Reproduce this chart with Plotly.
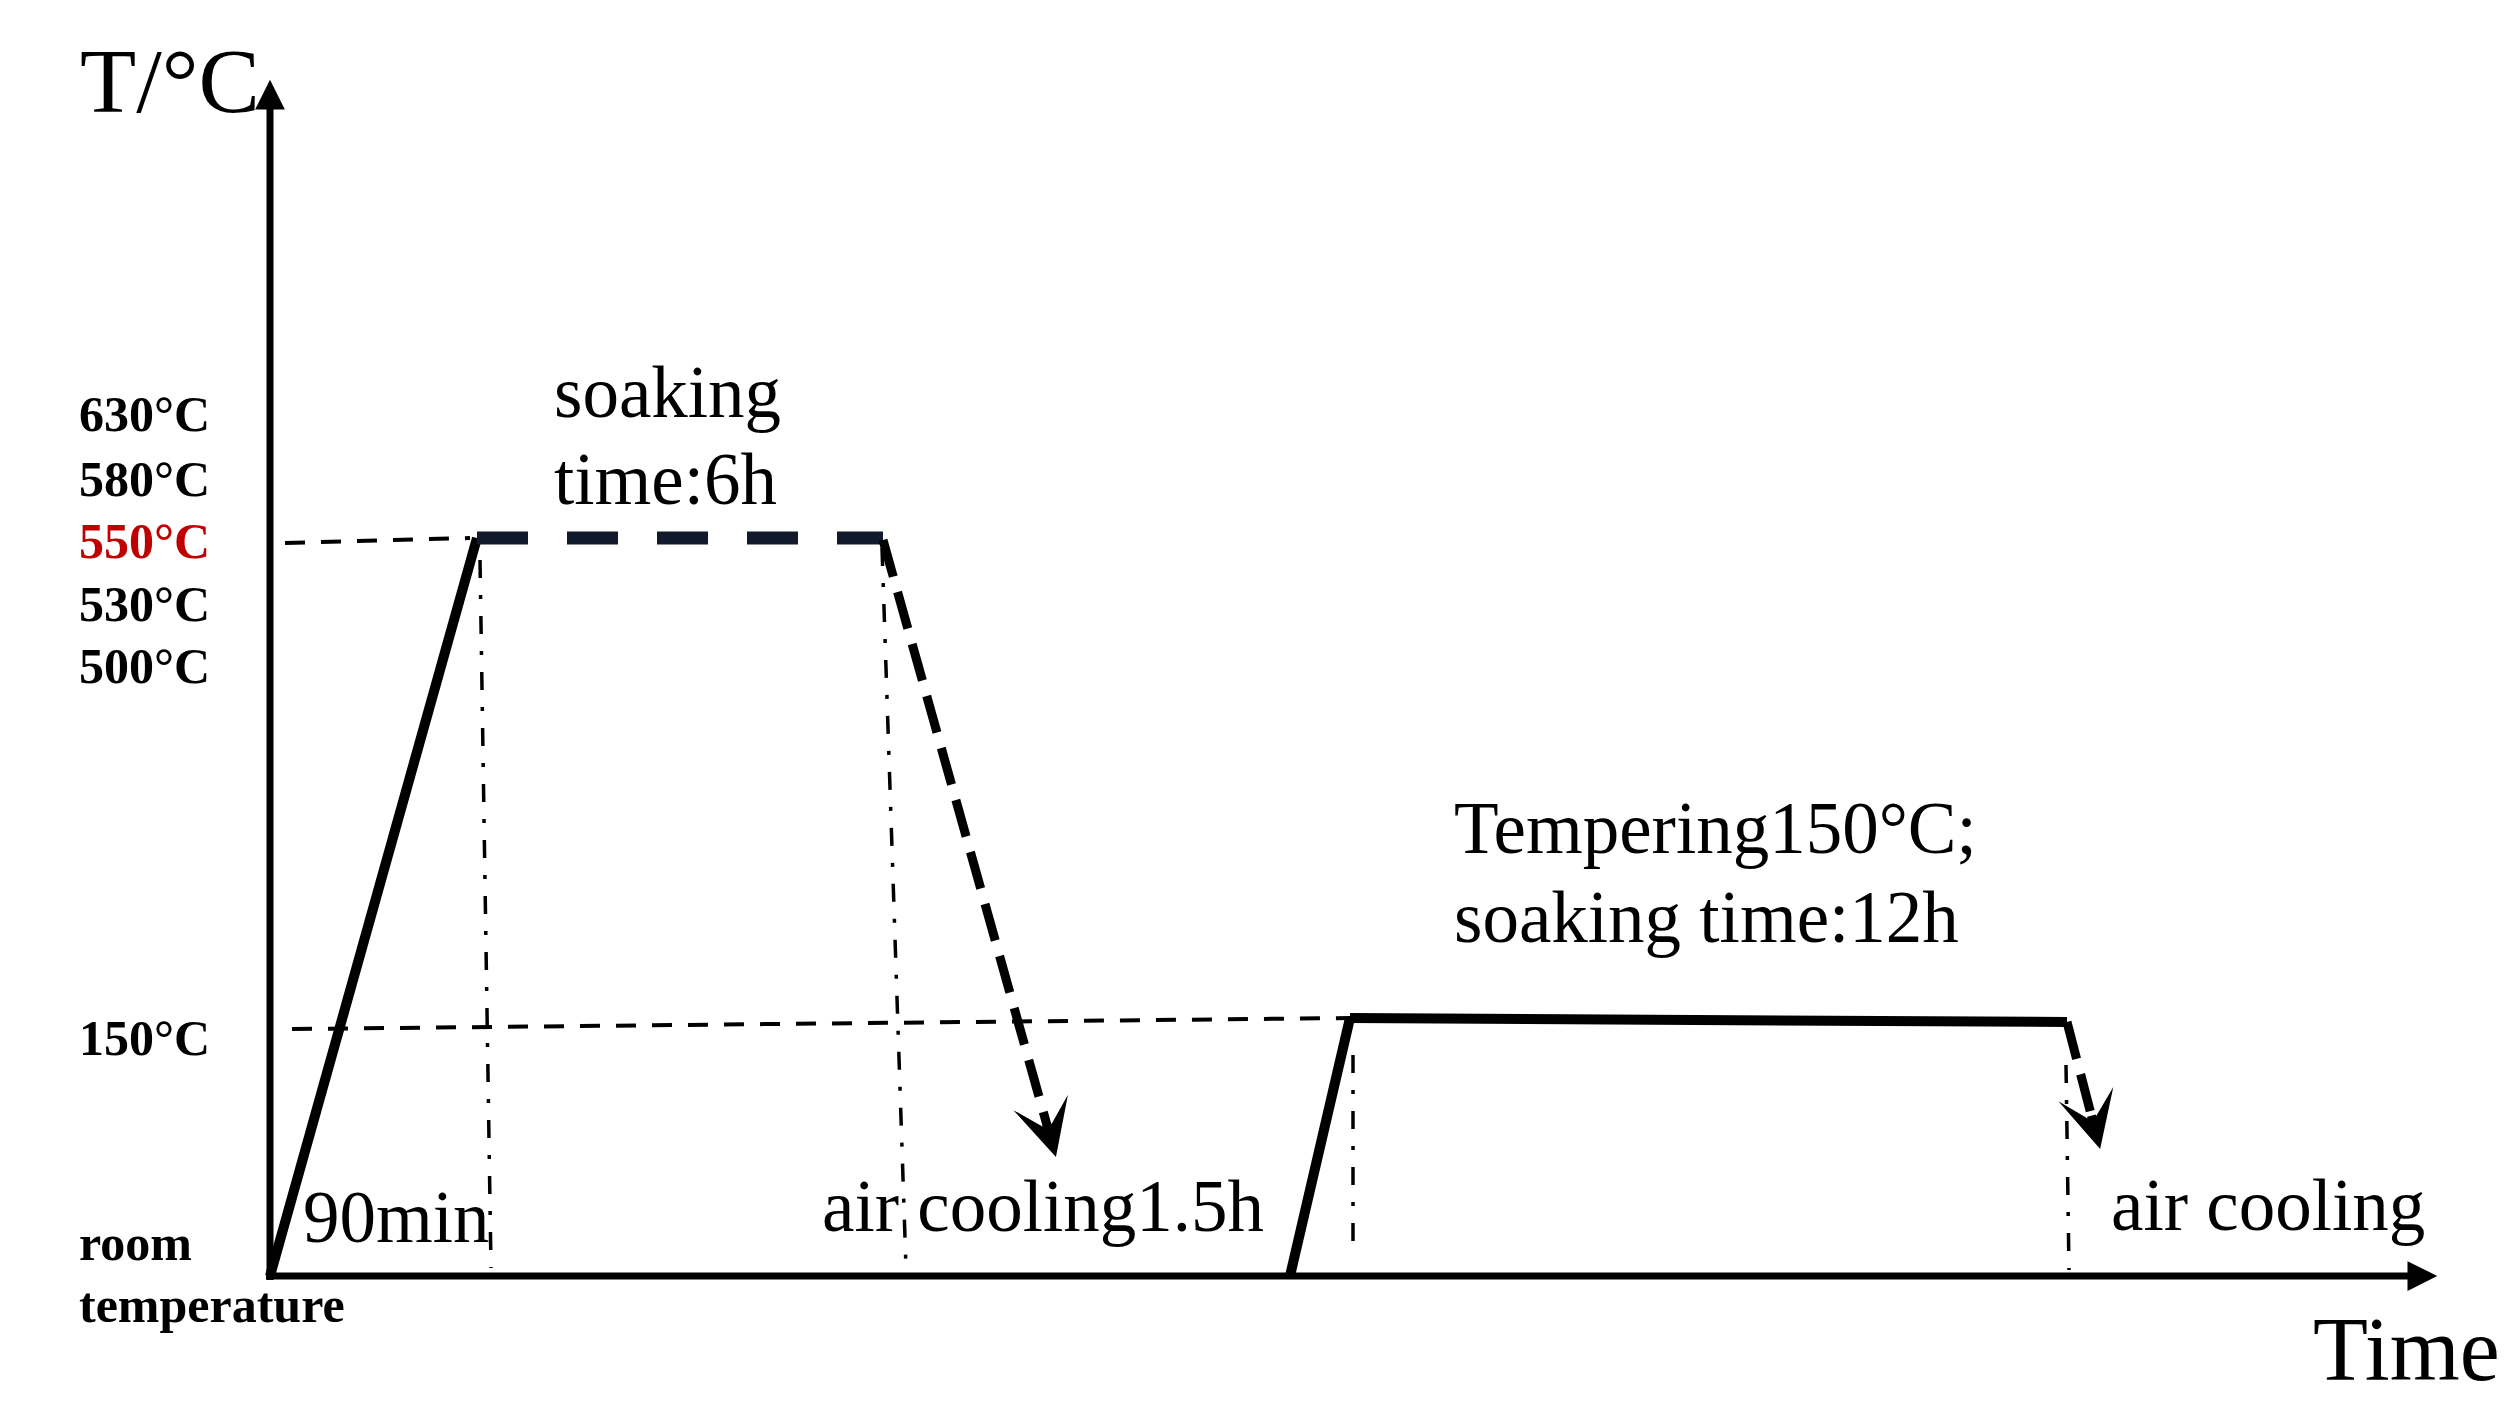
import math
import plotly.graph_objects as go

# ---- schematic data (px offsets from the origin of the diagram, y up) ----
heat1_t, heat1_T = [0, 207], [0, 738]
soak1_t, soak1_T = [207, 613], [738, 738]
cool1_t, cool1_T = [613, 789], [736, 108]
heat2_t, heat2_T = [1020, 1080], [0, 258]
temper_t, temper_T = [1080, 1797], [258, 254]
cool2_t, cool2_T = [1797, 1833], [254, 116]

ref550_t, ref550_T = [15, 200], [733, 738]
ref150_t, ref150_T = [22, 1080], [247, 258]
guide_t = [[210, 221], [612, 636], [1083, 1083], [1796, 1799]]
guide_T = [[716, 8], [728, 8], [221, 18], [211, 6]]

axis_t_end = 2175
axis_T_end = 1204

tick_labels = ["630°C", "580°C", "550°C", "530°C", "500°C", "150°C"]
tick_pos = [862, 797, 735, 672, 610, 238]
tick_colors = ["black", "black", "#c00000", "black", "black", "black"]

notes = ["soaking", "time:6h", "90min", "air cooling1.5h",
         "Tempering150°C;", "soaking time:12h", "air cooling"]
notes_t = [282, 282, 31, 550, 1182, 1182, 1839]
notes_T = [884, 797, 59, 70, 448, 359, 71]

SERIF = "Liberation Serif, Times New Roman, serif"
BLACK = "black"
NAVY = "#111a2c"

fig = go.Figure()

def line(x, y, width, dash="solid", color=BLACK):
    fig.add_trace(go.Scatter(x=x, y=y, mode="lines",
                             line=dict(color=color, width=width, dash=dash),
                             hoverinfo="skip", showlegend=False))

def head(tip_x, tip_y, ux, uy, style, width, size, tipoff, back=30):
    scale = width * size
    ex = tip_x - ux * tipoff * scale
    ey = tip_y - uy * tipoff * scale
    fig.add_annotation(x=ex, y=ey, ax=ex - ux * back, ay=ey - uy * back,
                       xref="x", yref="y", axref="x", ayref="y",
                       text="", showarrow=True, arrowhead=style,
                       arrowwidth=width, arrowsize=size, arrowcolor=BLACK)

# axes
line([0, 0], [-4, axis_T_end - 20], 7)
line([-4, axis_t_end - 20], [0, 0], 7)
head(0, axis_T_end, 0, 1, 2, 7, 0.85, 1.3, 12)
head(axis_t_end, 0, 1, 0, 2, 7, 0.85, 1.3, 12)

# reference lines
line(ref550_t, ref550_T, 4, "20px,16px")
line(ref150_t, ref150_T, 4, "20px,16px")
for gx, gy in zip(guide_t, guide_T):
    line(gx, gy, 3.5, "18px,17px,4px,17px")

# process path
line(heat1_t, heat1_T, 10)
line(soak1_t, soak1_T, 13, "51px,39px", NAVY)
line(heat2_t, heat2_T, 10)
line(temper_t, temper_T, 10)

for ct, cT in [(cool1_t, cool1_T), (cool2_t, cool2_T)]:
    dx, dy = ct[1] - ct[0], cT[1] - cT[0]
    L = math.hypot(dx, dy)
    ux, uy = dx / L, dy / L
    line([ct[0], ct[1] - ux * 28], [cT[0], cT[1] - uy * 28], 9, "38px,16px")
    head(ct[1], cT[1], ux, uy, 3, 9, 1.05, 1.2, 36)

# tick labels
for lab, pos, col in zip(tick_labels, tick_pos, tick_colors):
    fig.add_annotation(x=-193, y=pos, text=f"<b>{lab}</b>", showarrow=False,
                       xanchor="left", yanchor="middle",
                       font=dict(family=SERIF, size=50, color=col))
fig.add_annotation(x=-193, y=33, text="<b>room</b>", showarrow=False,
                   xanchor="left", yanchor="middle",
                   font=dict(family=SERIF, size=50, color=BLACK))
fig.add_annotation(x=-193, y=-29, text="<b>temperature</b>", showarrow=False,
                   xanchor="left", yanchor="middle",
                   font=dict(family=SERIF, size=50, color=BLACK))

# axis titles
fig.add_annotation(x=-192, y=1195, text="T/°C", showarrow=False,
                   xanchor="left", yanchor="middle",
                   font=dict(family=SERIF, size=92, color=BLACK))
fig.add_annotation(x=2041, y=-73, text="Time", showarrow=False,
                   xanchor="left", yanchor="middle",
                   font=dict(family=SERIF, size=90, color=BLACK))

# notes
for txt, nx, ny in zip(notes, notes_t, notes_T):
    fig.add_annotation(x=nx, y=ny, text=txt, showarrow=False,
                       xanchor="left", yanchor="middle",
                       font=dict(family=SERIF, size=73, color=BLACK))

fig.update_layout(
    width=2517, height=1415,
    margin=dict(l=0, r=0, t=0, b=0),
    paper_bgcolor="white", plot_bgcolor="white",
    xaxis=dict(range=[-270, 2247], visible=False, fixedrange=True),
    yaxis=dict(range=[-139, 1276], visible=False, fixedrange=True),
    showlegend=False, hovermode=False,
)

fig.write_html("out.html", config={"displayModeBar": False},
               post_script="document.body.style.margin='0';")
